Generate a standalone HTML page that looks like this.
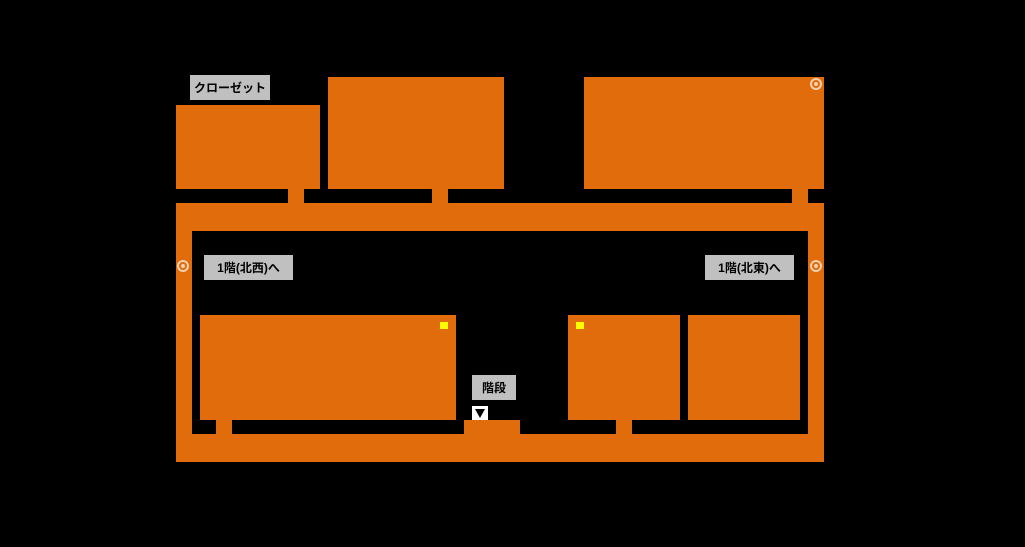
<!DOCTYPE html><html><head><meta charset="utf-8"><style>
body{margin:0;width:1025px;height:547px;background:#000;position:relative;overflow:hidden;font-family:"Liberation Sans","Noto Sans CJK JP",sans-serif}
.o{position:absolute;background:#e06c0c}
.l{position:absolute;background:#c0c0c0;color:#000;font-size:12px;font-weight:bold;display:flex;align-items:center;justify-content:center}
.y{position:absolute;background:#ffff00;width:8px;height:7px}
.c{position:absolute;width:12px;height:12px;border:2px solid #f0d0b0;border-radius:50%;box-sizing:border-box}
.c::after{content:"";position:absolute;left:2px;top:2px;width:4px;height:4px;background:#f0d0b0;border-radius:50%}
</style></head><body>
<div class="o" style="left:176px;top:105px;width:144px;height:84px"></div>
<div class="o" style="left:328px;top:77px;width:176px;height:112px"></div>
<div class="o" style="left:584px;top:77px;width:240px;height:112px"></div>
<div class="o" style="left:288px;top:189px;width:16px;height:14px"></div>
<div class="o" style="left:432px;top:189px;width:16px;height:14px"></div>
<div class="o" style="left:792px;top:189px;width:16px;height:14px"></div>
<div class="o" style="left:176px;top:203px;width:648px;height:28px"></div>
<div class="o" style="left:176px;top:434px;width:648px;height:28px"></div>
<div class="o" style="left:176px;top:203px;width:16px;height:259px"></div>
<div class="o" style="left:808px;top:203px;width:16px;height:259px"></div>
<div class="o" style="left:200px;top:315px;width:256px;height:105px"></div>
<div class="o" style="left:568px;top:315px;width:112px;height:105px"></div>
<div class="o" style="left:688px;top:315px;width:112px;height:105px"></div>
<div class="o" style="left:216px;top:420px;width:16px;height:14px"></div>
<div class="o" style="left:464px;top:420px;width:56px;height:14px"></div>
<div class="o" style="left:616px;top:420px;width:16px;height:14px"></div>
<div class="y" style="left:440px;top:322px"></div>
<div class="y" style="left:576px;top:322px"></div>
<div class="l" style="left:190px;top:75px;width:80px;height:25px">クローゼット</div>
<div class="l" style="left:204px;top:255px;width:89px;height:25px">1階(北西)へ</div>
<div class="l" style="left:705px;top:255px;width:89px;height:25px">1階(北東)へ</div>
<div class="l" style="left:472px;top:375px;width:44px;height:25px">階段</div>
<div style="position:absolute;left:472px;top:406px;width:16px;height:14px;background:#fff"><div style="position:absolute;left:3px;top:3px;width:0;height:0;border-left:5px solid transparent;border-right:5px solid transparent;border-top:9px solid #000"></div></div>
<div class="c" style="left:177px;top:260px"></div>
<div class="c" style="left:810px;top:260px"></div>
<div class="c" style="left:810px;top:78px"></div>
</body></html>
